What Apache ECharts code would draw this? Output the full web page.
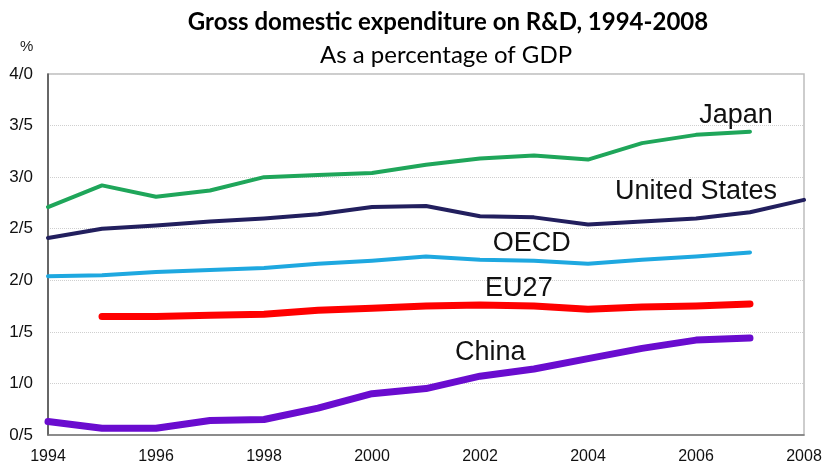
<!DOCTYPE html>
<html>
<head>
<meta charset="utf-8">
<script src="https://cdn.jsdelivr.net/npm/echarts@6/dist/echarts.min.js"></script>
<style>html,body{margin:0;padding:0;background:#fff;}#c{width:825px;height:466px;}</style>
</head>
<body>
<div id="c"></div>
<script>
var years = [1994,1995,1996,1997,1998,1999,2000,2001,2002,2003,2004,2005,2006,2007,2008];
var japan = [2.71,2.92,2.81,2.87,3.00,3.02,3.04,3.12,3.18,3.21,3.17,3.33,3.41,3.44,null];
var usa   = [2.41,2.50,2.53,2.57,2.60,2.64,2.71,2.72,2.62,2.61,2.54,2.57,2.60,2.66,2.78];
var oecd  = [2.04,2.05,2.08,2.10,2.12,2.16,2.19,2.23,2.20,2.19,2.16,2.20,2.23,2.27,null];
var eu27  = [null,1.65,1.65,1.66,1.67,1.71,1.73,1.75,1.76,1.75,1.72,1.74,1.75,1.77,null];
var china = [0.63,0.565,0.565,0.64,0.65,0.76,0.90,0.95,1.07,1.14,1.24,1.34,1.42,1.44,null];
var seriesNames = ['Japan','United States','OECD','EU27','China'];
var labelPos = [[2006.74,3.60],[2006.0,2.86],[2002.96,2.36],[2002.72,1.92],[2002.19,1.30]];

function pairs(arr){
  var out=[];
  for(var i=0;i<years.length;i++){ if(arr[i]!==null) out.push([years[i],arr[i]]); }
  return out;
}
var colors = ['#1fa65a','#221f5e','#1ea8e0','#ff0000','#6a0ccf'];
var widths = [4,4,4,7,7];
var datas = [japan,usa,oecd,eu27,china];
var series = datas.map(function(d,i){
  return {
    name: seriesNames[i], type:'line', data: pairs(d), symbol:'none', smooth:false,
    lineStyle:{color:colors[i], width:widths[i], cap:'round', join:'round'},
    z: 10-i,
    markPoint:{
      symbol:'circle', symbolSize:0, silent:true,
      data:[{coord:labelPos[i], value:seriesNames[i]}],
      label:{show:true, position:'inside', formatter:seriesNames[i], color:'#111', fontFamily:'Liberation Sans, Arial, sans-serif', fontSize:27}
    }
  };
});

var chart = echarts.init(document.getElementById('c'), null, {renderer:'canvas'});
chart.setOption({
  backgroundColor:'#fff',
  animation:false,
  title:[
    {text:'Gross domestic expenditure on R&D, 1994-2008', left:443, textAlign:'center', top:5, textStyle:{fontFamily:'Lato, sans-serif', fontWeight:'bold', fontSize:24, color:'#000'}},
    {text:'As a percentage of GDP', left:441, textAlign:'center', top:38, textStyle:{fontFamily:'Lato, sans-serif', fontWeight:'normal', fontSize:24, color:'#000'}},
    {text:'%', left:15, top:34, textStyle:{fontFamily:'Liberation Sans, Arial, sans-serif', fontWeight:'normal', fontSize:15, color:'#222'}}
  ],
  grid:{left:48, right:21, top:74, bottom:31, show:true, borderColor:'#bdbdbd', borderWidth:1.5},
  xAxis:{
    type:'value', min:1994, max:2008, interval:2,
    axisLine:{show:true, lineStyle:{color:'#777', width:1.5}},
    axisTick:{show:false},
    splitLine:{show:false},
    axisLabel:{color:'#111', fontFamily:'Liberation Sans, Arial, sans-serif', fontSize:16, margin:14, formatter:function(v){return String(v);}}
  },
  yAxis:{
    type:'value', min:0.5, max:4.0, interval:0.5,
    axisLine:{show:true, lineStyle:{color:'#444', width:1.5}},
    axisTick:{show:false},
    splitLine:{show:true, lineStyle:{color:'#cfcfcf', type:'dotted', width:1}},
    axisLabel:{color:'#111', fontFamily:'Liberation Sans, Arial, sans-serif', fontSize:17, margin:15,
      formatter:function(v){return v.toFixed(1).replace('.','/');}}
  },
  series: series
});
</script>
</body>
</html>
